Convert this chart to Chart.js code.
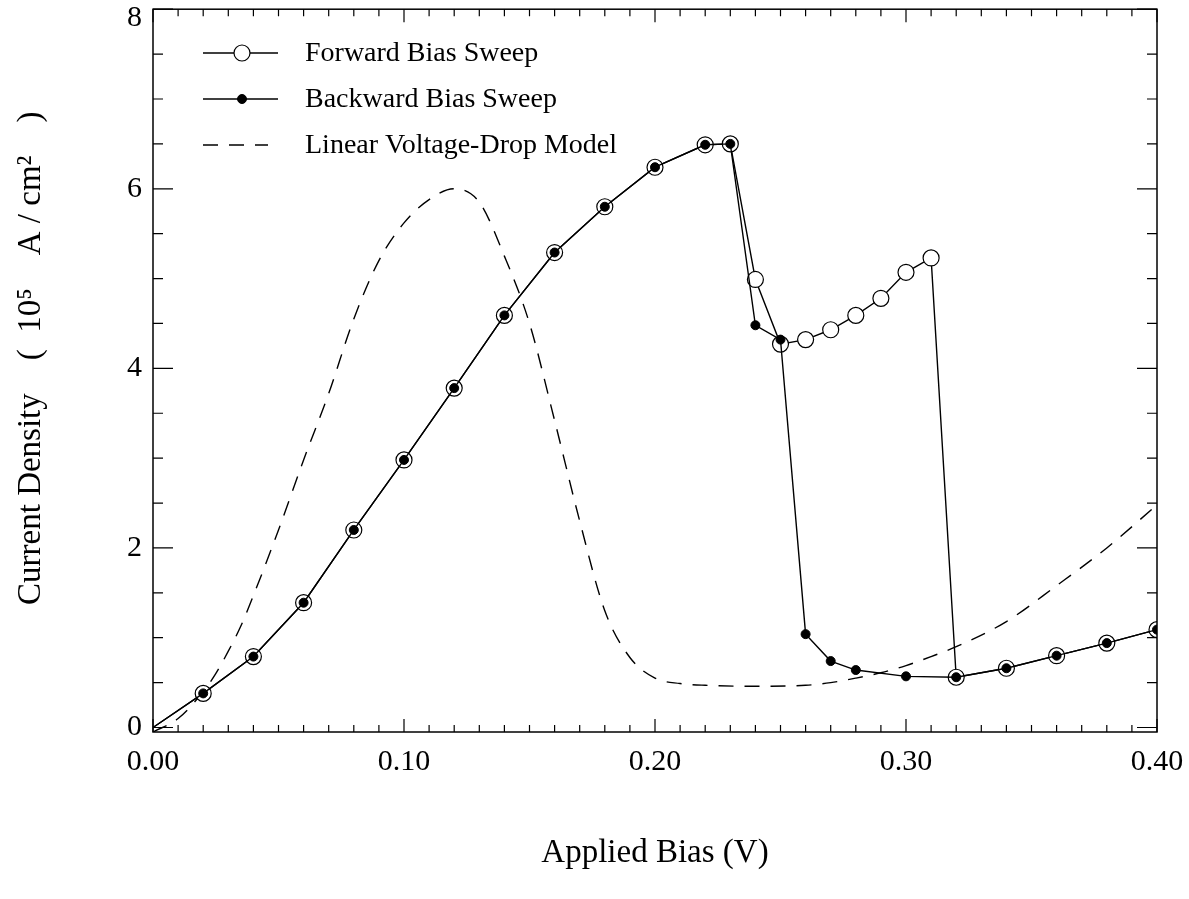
<!DOCTYPE html>
<html>
<head>
<meta charset="utf-8">
<script src="https://cdn.jsdelivr.net/npm/chart.js@4.4.1/dist/chart.umd.min.js"></script>
<style>
    html, body { margin: 0; padding: 0; background: #fff; }
    #wrap { width: 1189px; height: 899px; }
</style>
</head>
<body>
<div id="wrap"><canvas id="iv-chart"></canvas></div>
<script>
// Forward sweep (open circles)
const forwardBias = [0, 0.02, 0.04, 0.06, 0.08, 0.10, 0.12, 0.14, 0.16, 0.18, 0.20, 0.22, 0.23,
    0.24, 0.25, 0.26, 0.27, 0.28, 0.29, 0.30, 0.31, 0.32, 0.34, 0.36, 0.38, 0.40];
const forwardCurrent = [0, 0.38, 0.79, 1.39, 2.2, 2.98, 3.78, 4.59, 5.29, 5.80, 6.24, 6.49, 6.5,
    4.99, 4.27, 4.32, 4.43, 4.59, 4.78, 5.07, 5.23, 0.56, 0.66, 0.80, 0.94, 1.09];

// Backward sweep (filled dots)
const backwardBias = [0, 0.02, 0.04, 0.06, 0.08, 0.10, 0.12, 0.14, 0.16, 0.18, 0.20, 0.22, 0.23,
    0.24, 0.25, 0.26, 0.27, 0.28, 0.30, 0.32, 0.34, 0.36, 0.38, 0.40];
const backwardCurrent = [0, 0.38, 0.79, 1.39, 2.2, 2.98, 3.78, 4.59, 5.29, 5.80, 6.24, 6.49, 6.5,
    4.48, 4.32, 1.04, 0.74, 0.64, 0.57, 0.56, 0.66, 0.80, 0.94, 1.09];

// Linear voltage-drop model (dashed)
const modelBias = [0, 0.01, 0.02, 0.025, 0.03, 0.035, 0.04, 0.05, 0.06, 0.07, 0.08, 0.09, 0.10, 0.11,
    0.12, 0.13, 0.14, 0.15, 0.16, 0.17, 0.18, 0.19, 0.20, 0.21, 0.22, 0.24, 0.26, 0.27, 0.28, 0.29,
    0.30, 0.31, 0.32, 0.34, 0.36, 0.38, 0.40];
const modelCurrent = [-0.05, 0.1, 0.4, 0.6, 0.85, 1.13, 1.47, 2.2, 2.98, 3.72, 4.55, 5.2, 5.62, 5.88,
    6.0, 5.85, 5.25, 4.5, 3.42, 2.3, 1.3, 0.78, 0.55, 0.49, 0.47, 0.46, 0.47, 0.5, 0.55, 0.61,
    0.69, 0.79, 0.9, 1.18, 1.58, 2.0, 2.48];

const xTicks = [0, 0.1, 0.2, 0.3, 0.4];
const yTicks = [0, 2, 4, 6, 8];
const legendLabels = ['Forward Bias Sweep', 'Backward Bias Sweep', 'Linear Voltage-Drop Model'];
const xTitle = 'Applied Bias (V)';
// leading spaces nudge the centred title up a little
const yTitle = '   Current Density    (  10\u2075    A / cm\u00B2    )';

const serif = "'Liberation Serif', 'DejaVu Serif', serif";

function toPoints(xs, ys) {
    return xs.map((x, i) => ({ x: x, y: ys[i] }));
}

// hide the marker at the origin, the curve just starts there
function markerRadius(size) {
    return ctx => (ctx.raw && ctx.raw.x === 0 ? 0 : size);
}

// frameTicks draws the box round the plot and the inward ticks on all four sides
const frameTicks = {
    id: 'frameTicks',
    afterDatasetsDraw(chart) {
        const { ctx, chartArea: a, scales } = chart;
        const xs = scales.x, ys = scales.y;
        ctx.save();
        ctx.strokeStyle = '#000';
        ctx.lineWidth = 1.5;
        ctx.strokeRect(a.left, a.top, a.right - a.left, a.bottom - a.top);
        ctx.lineWidth = 1.2;
        ctx.beginPath();
        for (let i = 0; i <= 40; i++) {
            const px = xs.getPixelForValue(i / 100);
            const len = i % 10 === 0 ? 13 : 7;
            ctx.moveTo(px, a.bottom); ctx.lineTo(px, a.bottom - len);
            ctx.moveTo(px, a.top); ctx.lineTo(px, a.top + len);
        }
        for (let i = 0; i <= 16; i++) {
            const py = ys.getPixelForValue(i * 0.5);
            const len = i % 4 === 0 ? 20 : 10;
            ctx.moveTo(a.left, py); ctx.lineTo(a.left + len, py);
            ctx.moveTo(a.right, py); ctx.lineTo(a.right - len, py);
        }
        ctx.stroke();
        ctx.restore();
    }
};

// insetLegend draws the legend inside the top left of the plot
const insetLegend = {
    id: 'insetLegend',
    afterDraw(chart) {
        const ctx = chart.ctx;
        ctx.save();
        ctx.font = '28px ' + serif;
        ctx.textBaseline = 'middle';
        ctx.fillStyle = '#000';
        chart.data.datasets.forEach((ds, i) => {
            const y = 53 + i * 46;
            ctx.strokeStyle = '#000';
            ctx.lineWidth = 1.4;
            ctx.setLineDash(ds.borderDash || []);
            ctx.beginPath();
            ctx.moveTo(203, y);
            ctx.lineTo(ds.borderDash ? 268 : 278, y);
            ctx.stroke();
            ctx.setLineDash([]);
            if (ds.legendRadius) {
                ctx.beginPath();
                ctx.arc(242, y, ds.legendRadius, 0, Math.PI * 2);
                ctx.fillStyle = ds.pointBackgroundColor;
                ctx.fill();
                ctx.lineWidth = ds.pointBorderWidth;
                ctx.stroke();
            }
            ctx.fillStyle = '#000';
            ctx.fillText(legendLabels[i], 305, y + 1);
        });
        ctx.restore();
    }
};

function createBiasChart(targetID) {
    const ctx = document.getElementById(targetID).getContext('2d');
    const topValue = yTicks[yTicks.length - 1];
    return new Chart(ctx, {
        type: 'scatter',
        data: {
            datasets: [{
                label: legendLabels[0],
                data: toPoints(forwardBias, forwardCurrent),
                showLine: true,
                borderColor: '#000',
                borderWidth: 1.4,
                pointRadius: markerRadius(8),
                legendRadius: 8,
                pointBackgroundColor: '#fff',
                pointBorderColor: '#000',
                pointBorderWidth: 1.2,
                order: 2
            }, {
                label: legendLabels[1],
                data: toPoints(backwardBias, backwardCurrent),
                showLine: true,
                borderColor: '#000',
                borderWidth: 1.4,
                pointRadius: markerRadius(4.5),
                legendRadius: 4.5,
                pointBackgroundColor: '#000',
                pointBorderColor: '#000',
                pointBorderWidth: 1,
                order: 1
            }, {
                label: legendLabels[2],
                data: toPoints(modelBias, modelCurrent),
                showLine: true,
                borderColor: '#000',
                borderWidth: 1.4,
                borderDash: [15, 11],
                cubicInterpolationMode: 'monotone',
                pointRadius: 0,
                order: 3
            }]
        },
        options: {
            responsive: false,
            animation: false,
            layout: { padding: { left: 0, right: 32, top: 8, bottom: 0 } },
            plugins: { legend: { display: false }, tooltip: { enabled: false } },
            scales: {
                x: {
                    type: 'linear',
                    min: 0,
                    max: 0.4,
                    afterBuildTicks: s => { s.ticks = xTicks.map(v => ({ value: v })); },
                    afterFit: s => { s.height = 167; s.paddingLeft = 0; s.paddingRight = 0; },
                    grid: { display: false },
                    border: { display: false },
                    ticks: {
                        color: '#000',
                        font: { family: serif, size: 30 },
                        padding: 4,
                        maxRotation: 0,
                        autoSkip: false,
                        callback: v => v.toFixed(2)
                    },
                    title: {
                        display: true,
                        text: xTitle,
                        color: '#000',
                        font: { family: serif, size: 33 },
                        padding: { top: 0, bottom: 26 }
                    }
                },
                y: {
                    min: -0.05,
                    max: 8,
                    afterBuildTicks: s => { s.ticks = yTicks.map(v => ({ value: v })); },
                    afterFit: s => { s.width = 153; s.paddingTop = 0; s.paddingBottom = 0; },
                    grid: { display: false },
                    border: { display: false },
                    ticks: {
                        color: '#000',
                        // the top label sits a bit lower so it is not cut off
                        font: c => ({ family: serif, size: 30,
                            lineHeight: c.tick && c.tick.value === topValue ? 0.6 : 1.2 }),
                        padding: 3,
                        callback: v => (v === topValue ? ['', String(v)] : String(v))
                    },
                    title: {
                        display: true,
                        text: yTitle,
                        color: '#000',
                        font: { family: serif, size: 33 },
                        padding: { top: 12, bottom: 0 }
                    }
                }
            }
        },
        plugins: [frameTicks, insetLegend]
    });
}

const canvas = document.getElementById('iv-chart');
canvas.width = 1189;
canvas.height = 899;
createBiasChart('iv-chart');
</script>
</body>
</html>
